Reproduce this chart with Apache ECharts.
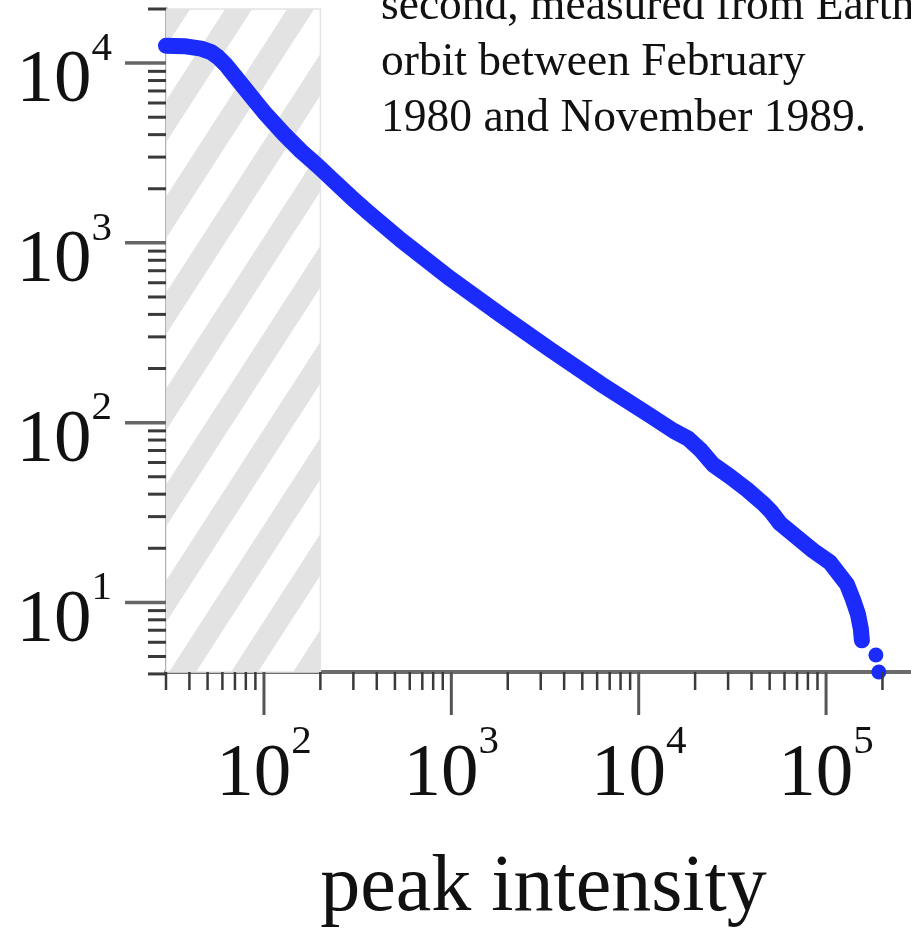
<!DOCTYPE html>
<html>
<head>
<meta charset="utf-8">
<script src="https://cdn.jsdelivr.net/npm/echarts@6/dist/echarts.min.js"></script>
<style>
  html, body { margin: 0; padding: 0; background: #ffffff; }
  #chart { width: 911px; height: 928px; }
</style>
</head>
<body>
<div id="chart"></div>
<script>
// Cumulative count of flares whose peak intensity exceeds a given value (log-log)
const peakIntensity = [
  30, 37.5, 46.2, 52.2, 56.9, 62.8, 69.2, 77.3, 85.2, 100,
  127.8, 157.4, 194, 236, 290.8, 358.2, 537, 991.5, 1830, 3381,
  6244, 11530, 15290, 18380, 21290, 24970, 30760, 37890, 46110, 50880,
  56810, 69980, 85150, 104900, 129300, 139100, 147900, 153400, 155300
];
const flareCount = [
  12500, 12430, 12040, 11510, 10800, 9750, 8580, 7450, 6556, 5343,
  4033, 3244, 2678, 2210, 1801, 1487, 1039, 631, 398, 254.4,
  164.7, 109.4, 90.3, 81.5, 70.8, 58.4, 50.1, 42.4, 35.5, 32.0,
  27.5, 23.0, 19.45, 16.7, 12.6, 10.4, 8.6, 7.1, 6.15
];
// the last few, isolated events
const tailIntensity = [184500, 191300];
const tailCount = [5.1, 4.1];

// axis ranges
const xMin = 30, xMax = 284000;
const yMin = 4.1, yMax = 20000;
// shaded (hatched) low-intensity range
const hatchLimit = 200;

// tick labels: powers of ten that carry a label
const xLabelExponents = [2, 3, 4, 5];
const yLabelExponents = [1, 2, 3, 4];
const xDecades = [10, 100, 1000, 10000, 100000];
const yDecades = [1, 10, 100, 1000, 10000];
const minorSteps = [2, 3, 4, 5, 6, 7, 8, 9];

const noteLines = [
  'second, measured from Earth',
  'orbit between February',
  '1980 and November 1989.'
];
const xTitle = 'peak intensity';

const SERIF = "'Liberation Serif', 'Times New Roman', serif";
const CURVE_BLUE = '#1a2bfb';

// tick lists: [value, isMajor]
function buildTicks(decades, lo, hi) {
  const out = [];
  decades.forEach(d => {
    if (d >= lo && d <= hi) out.push([d, 1]);
    minorSteps.forEach(m => {
      const v = d * m;
      if (v >= lo * 0.97 && v <= hi * 1.001) out.push([v, 0]);
    });
  });
  return out;
}
const xTicks = buildTicks(xDecades, xMin, xMax);
const yTicks = buildTicks(yDecades, yMin, yMax);

// diagonal stripe tile used to fill the shaded range
function stripeTile() {
  const W = 62, H = 96, g = 27, c = 45;
  const cv = document.createElement('canvas');
  cv.width = W; cv.height = H;
  const ctx = cv.getContext('2d');
  ctx.fillStyle = '#ffffff';
  ctx.fillRect(0, 0, W, H);
  ctx.fillStyle = '#e3e3e3';
  for (let k = -2; k <= 2; k++) {
    const u = c + k * W;
    ctx.beginPath();
    ctx.moveTo(u, 0);
    ctx.lineTo(u + g, 0);
    ctx.lineTo(u + g - W, H);
    ctx.lineTo(u - W, H);
    ctx.closePath();
    ctx.fill();
  }
  return cv;
}

function powerLabel(exps) {
  return function (value) {
    const l = Math.log10(value);
    const e = Math.round(l);
    if (Math.abs(l - e) > 1e-6 || exps.indexOf(e) < 0) return '';
    return '{b|10}{e|' + e + '}';
  };
}
// "10" with a raised exponent; both tokens fill the whole line box,
// the exponent is lifted by its bottom padding
const labelRich = {
  b: { fontFamily: SERIF, fontSize: 75, lineHeight: 106, color: '#111', verticalAlign: 'middle' },
  e: { fontFamily: SERIF, fontSize: 41, lineHeight: 41, padding: [0, 0, 65, 0], color: '#111', verticalAlign: 'middle' }
};

const chart = echarts.init(document.getElementById('chart'), null, { renderer: 'canvas' });

chart.setOption({
  backgroundColor: '#ffffff',
  animation: false,
  grid: { left: 166, right: 0, top: 9, bottom: 256, containLabel: false, outerBoundsMode: 'none' },
  xAxis: {
    type: 'log', logBase: 10, min: xMin, max: xMax,
    axisLine: { show: true, lineStyle: { color: '#6b6b6b', width: 4 } },
    axisTick: { show: false },
    splitLine: { show: false },
    axisLabel: { formatter: powerLabel(xLabelExponents), rich: labelRich, margin: 50 },
    name: xTitle, nameLocation: 'middle', nameGap: 177,
    nameTextStyle: { fontFamily: SERIF, fontSize: 80, color: '#111', padding: [0, 0, 0, 10] }
  },
  yAxis: {
    type: 'log', logBase: 10, min: yMin, max: yMax,
    axisLine: { show: true, lineStyle: { color: '#1a1a1a', width: 3 } },
    axisTick: { show: false },
    splitLine: { show: false },
    axisLabel: { formatter: powerLabel(yLabelExponents), rich: labelRich, margin: 54, padding: [37, 0, 0, 0] }
  },
  graphic: [{
    type: 'text', x: 381, y: -21, silent: true,
    style: { text: noteLines.join('\n'), font: '45.5px ' + SERIF, lineHeight: 56, fill: '#111' }
  }],
  series: [
    {
      // hatched range below the detection limit
      type: 'line', data: [], z: 1, silent: true,
      markArea: {
        silent: true,
        itemStyle: { color: { image: stripeTile(), repeat: 'repeat' }, borderColor: '#e4e4e4', borderWidth: 1.5 },
        data: [[{ coord: [xMin, yMax] }, { coord: [hatchLimit, yMin] }]]
      }
    },
    {
      type: 'line', z: 3, clip: false, silent: true,
      data: peakIntensity.map((v, i) => [v, flareCount[i]]),
      showSymbol: false, symbol: 'none',
      lineStyle: { color: CURVE_BLUE, width: 16, cap: 'round', join: 'round' }
    },
    {
      type: 'scatter', z: 3, clip: false, silent: true,
      data: tailIntensity.map((v, i) => [v, tailCount[i]]),
      symbol: 'circle', symbolSize: 15,
      itemStyle: { color: CURVE_BLUE, opacity: 1 }
    },
    {
      // x-axis ticks (major long, minor short), pointing down
      type: 'custom', z: 5, clip: false, silent: true,
      data: xTicks.map(t => [t[0], yMin, t[1]]),
      renderItem(params, api) {
        const p = api.coord([api.value(0), api.value(1)]);
        const major = api.value(2) === 1;
        return {
          type: 'line',
          shape: { x1: p[0], y1: p[1], x2: p[0], y2: p[1] + (major ? 43 : 18) },
          style: { stroke: major ? '#555' : '#3a3a3a', lineWidth: major ? 3 : 2.5 }
        };
      }
    },
    {
      // y-axis ticks, pointing left
      type: 'custom', z: 5, clip: false, silent: true,
      data: yTicks.map(t => [xMin, t[0], t[1]]),
      renderItem(params, api) {
        const p = api.coord([api.value(0), api.value(1)]);
        const major = api.value(2) === 1;
        return {
          type: 'line',
          shape: { x1: p[0] - (major ? 41 : 18), y1: p[1], x2: p[0], y2: p[1] },
          style: { stroke: major ? '#666' : '#3a3a3a', lineWidth: major ? 3.5 : 3 }
        };
      }
    }
  ]
});
</script>
</body>
</html>
